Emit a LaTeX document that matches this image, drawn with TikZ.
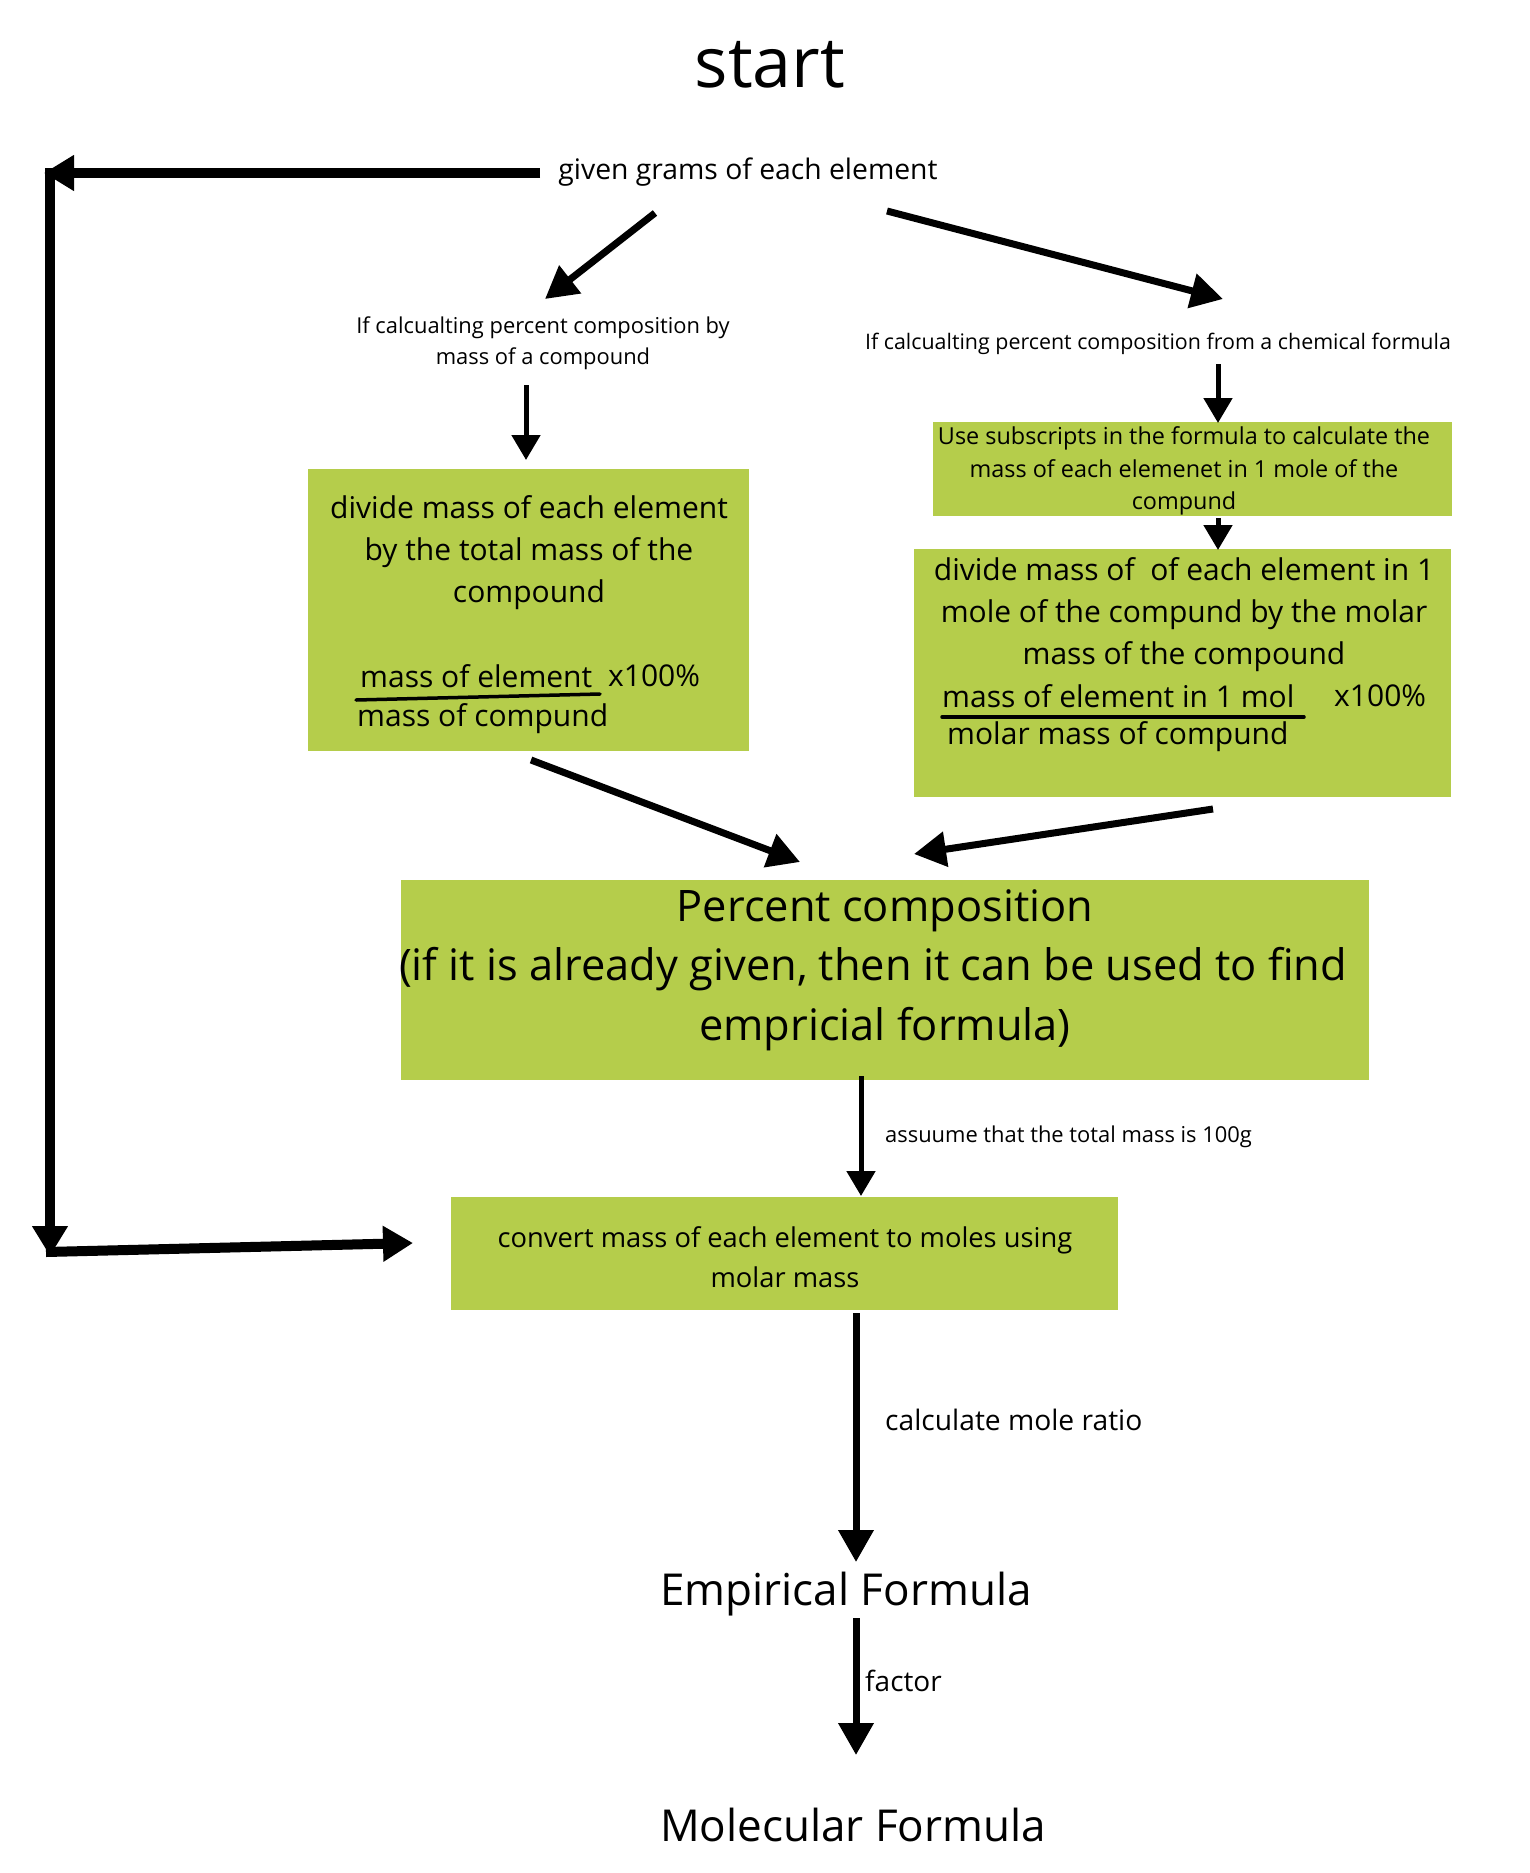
\documentclass[tikz,border=0pt]{standalone}
\usepackage{fontspec}
\setmainfont{Open Sans}
\usetikzlibrary{arrows.meta}
\definecolor{boxgreen}{RGB}{181,205,75}
\tikzset{
  boxnode/.style={fill=boxgreen, draw=none, anchor=north west, inner sep=0pt},
  txt/.style={inner sep=0pt, align=center},
  bigarr/.style={line width=7pt, -{Triangle[length=32pt,width=34pt]}},
  smallarr/.style={line width=5pt, -{Triangle[length=25pt,width=28pt]}},
  looparr/.style={line width=10pt, -{Triangle[length=30pt,width=34pt]}},
  fracline/.style={line width=3.5pt, line cap=round},
}
\begin{document}
\begin{tikzpicture}[x=1pt,y=-1pt]
\useasboundingbox (0,0) rectangle (1530,1873);

% boxes
\node[boxnode, minimum width=441pt, minimum height=282pt] (boxL) at (308,469) {};
\node[boxnode, minimum width=519pt, minimum height=94pt] (boxR1) at (933,422) {};
\node[boxnode, minimum width=537pt, minimum height=248pt] (boxR2) at (914,549) {};
\node[boxnode, minimum width=968pt, minimum height=200pt] (big) at (401,880) {};
\node[boxnode, minimum width=667pt, minimum height=113pt] (conv) at (451,1197) {};

% texts
\node[txt, font=\fontsize{70}{80}\selectfont] (start) at (770,65) {start};
\node[txt, font=\fontsize{28.3}{36}\selectfont] (given) at (748,172) {given grams of each element};
\node[txt, font=\fontsize{21.9}{31}\selectfont] (brL) at (543,343) {If calcualting percent composition by\\mass of a compound};
\node[txt, font=\fontsize{21.4}{31}\selectfont] (brR) at (1158,344) {If calcualting percent composition from a chemical formula};

\node[txt, font=\fontsize{30}{42}\selectfont] (tL) at (529,552.5) {divide mass of each element\\by the total mass of the\\compound};
\node[txt, anchor=west, font=\fontsize{30}{42}\selectfont] (numL) at (360,676) {mass of element};
\node[txt, anchor=west, font=\fontsize{30}{42}\selectfont] (xL) at (608,676) {x100\%};
\node[txt, anchor=west, font=\fontsize{30}{42}\selectfont] (denL) at (357,719) {mass of compund};

\node[txt, font=\fontsize{23.4}{32.5}\selectfont] (tR1) at (1184,471) {Use subscripts in the formula to calculate the\\mass of each elemenet in 1 mole of the\\compund};
\node[txt, font=\fontsize{30}{42}\selectfont] (tR2) at (1184,615) {divide mass of \ of each element in 1\\mole of the compund by the molar\\mass of the compound};
\node[txt, anchor=west, font=\fontsize{30}{42}\selectfont] (numR) at (942,696) {mass of element in 1 mol};
\node[txt, anchor=west, font=\fontsize{30}{42}\selectfont] (xR) at (1334,696) {x100\%};
\node[txt, anchor=west, font=\fontsize{30}{42}\selectfont] (denR) at (947,737) {molar mass of compund};

\node[txt, font=\fontsize{43.4}{59.5}\selectfont] (tBig) at (885,970) {Percent composition\\(if it is already given, then it can be used to find\makebox[24pt]{}\\empricial formula)};
\node[txt, anchor=west, font=\fontsize{21.9}{30}\selectfont] (lAssume) at (885,1137) {assuume that the total mass is 100g};
\node[txt, font=\fontsize{27.3}{40}\selectfont] (tConv) at (785,1257) {convert mass of each element to moles using\\molar mass};
\node[txt, anchor=west, font=\fontsize{28.2}{36}\selectfont] (lRatio) at (885,1420) {calculate mole ratio};
\node[txt, font=\fontsize{44}{52}\selectfont] (emp) at (846,1594) {Empirical Formula};
\node[txt, anchor=west, font=\fontsize{28}{36}\selectfont] (lFactor) at (865,1681) {factor};
\node[txt, font=\fontsize{44}{52}\selectfont] (mol) at (853,1825) {Molecular Formula};

% fraction bars
\draw[fracline] (356,700) -- (600,694);
\draw[fracline] (942,717) -- (1304,717);

% connector end points
\coordinate (g0) at (540,173);
\coordinate (c1) at (44,173);
\coordinate (c2) at (50,168);
\coordinate (c3) at (50,1256);
\coordinate (c4) at (46,1252);
\coordinate (c5) at (413,1243);
\coordinate (a2s) at (655,213);
\coordinate (a2e) at (545,299);
\coordinate (a3s) at (887,211);
\coordinate (a3e) at (1223,299);
\coordinate (a4s) at (526,385);
\coordinate (a4e) at (526,460);
\coordinate (a5s) at (1218,364);
\coordinate (a5e) at (1218,423);
\coordinate (a6s) at (1218,518);
\coordinate (a6e) at (1218,550);
\coordinate (a7s) at (531,760);
\coordinate (a7e) at (800,862);
\coordinate (a8s) at (1213,809);
\coordinate (a8e) at (914,854);
\coordinate (a9s) at (861,1076);
\coordinate (a9e) at (861,1196);
\coordinate (a10s) at (856,1313);
\coordinate (a10e) at (856,1562);
\coordinate (a11s) at (856,1618);
\coordinate (a11e) at (856,1755);

% connectors
\draw[looparr] (g0) -- (c1);
\draw[looparr] (c2) -- (c3);
\draw[looparr] (c4) -- (c5);
\draw[bigarr] (a2s) -- (a2e);
\draw[bigarr] (a3s) -- (a3e);
\draw[smallarr] (a4s) -- (a4e);
\draw[smallarr] (a5s) -- (a5e);
\draw[smallarr] (a6s) -- (a6e);
\draw[bigarr] (a7s) -- (a7e);
\draw[bigarr] (a8s) -- (a8e);
\draw[smallarr] (a9s) -- (a9e);
\draw[bigarr] (a10s) -- (a10e);
\draw[bigarr] (a11s) -- (a11e);
\end{tikzpicture}
\end{document}
